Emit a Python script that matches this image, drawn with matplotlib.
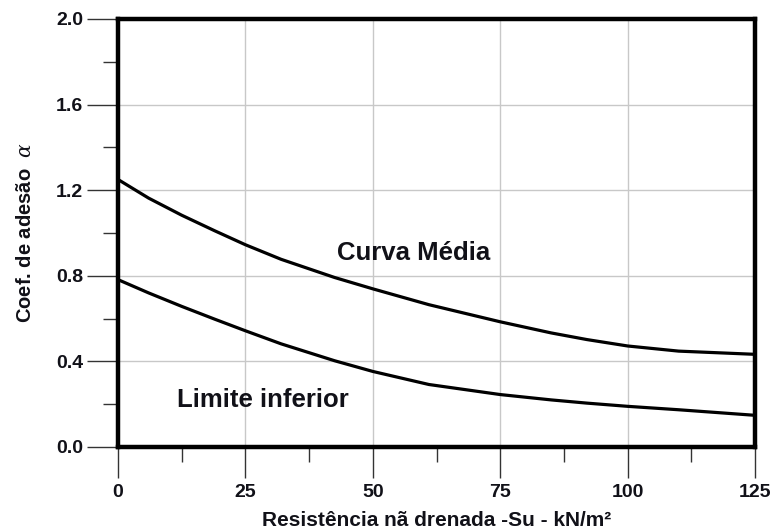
import matplotlib
matplotlib.use("Agg")
import matplotlib.pyplot as plt
from matplotlib.ticker import MultipleLocator

# Undrained shear strength Su (kN/m²)
su = [0, 6, 12.5, 19, 25, 32, 42.5, 50, 61, 75, 85, 92, 100, 110, 125]
# Adhesion coefficient alpha – mean curve
alpha_media = [1.25, 1.163, 1.083, 1.010, 0.945, 0.877, 0.792, 0.739, 0.665,
               0.585, 0.533, 0.502, 0.472, 0.448, 0.433]
# Adhesion coefficient alpha – lower bound
alpha_inferior = [0.782, 0.72, 0.657, 0.597, 0.543, 0.482, 0.403, 0.353, 0.292,
                  0.245, 0.220, 0.205, 0.19, 0.174, 0.148]

x_ticks = [0, 25, 50, 75, 100, 125]
y_ticks = [0.0, 0.4, 0.8, 1.2, 1.6, 2.0]
y_tick_labels = ["0.0", "0.4", "0.8", "1.2", "1.6", "2.0"]

plt.rcParams["font.family"] = ["Liberation Sans", "DejaVu Sans"]
plt.rcParams["mathtext.fontset"] = "dejavuserif"

txt = "#111118"

fig = plt.figure(figsize=(7.74, 5.32), dpi=100)
ax = fig.add_axes([0.1525, 0.1598, 0.823, 0.8045])

ax.plot(su, alpha_media, color="black", lw=2.3, solid_joinstyle="round", zorder=3)
ax.plot(su, alpha_inferior, color="black", lw=2.3, solid_joinstyle="round", zorder=3)

ax.set_xlim(0, 125)
ax.set_ylim(0, 2.0)

ax.set_xticks(x_ticks)
ax.set_xticklabels([str(v) for v in x_ticks], fontweight="bold", fontsize=14,
                   color=txt)
ax.xaxis.set_minor_locator(MultipleLocator(12.5))
ax.set_yticks(y_ticks)
ax.set_yticklabels(y_tick_labels, fontweight="bold", fontsize=14, color=txt)
ax.yaxis.set_minor_locator(MultipleLocator(0.2))

ax.tick_params(axis="both", which="major", direction="out", length=22,
               width=1.0, color="#333333")
ax.tick_params(axis="both", which="minor", direction="out", length=11,
               width=1.0, color="#333333")
ax.tick_params(axis="x", which="major", pad=4.5)
ax.tick_params(axis="y", which="major", pad=3)

ax.grid(True, which="major", color="#c8c8c8", lw=1.0, zorder=0)
ax.set_axisbelow(True)

for s in ax.spines.values():
    s.set_linewidth(3.2)
    s.set_color("black")
    s.set_zorder(4)

ax.set_xlabel("Resistência nã drenada -Su - kN/m²", fontweight="bold",
              fontsize=15, color=txt, labelpad=7)
ax.set_ylabel("Coef. de adesão  $\\alpha$", fontweight="bold", fontsize=14.5,
              color=txt, labelpad=15)

ax.text(42.9, 0.872, "Curva Média", ha="left", va="baseline",
        fontweight="bold", fontsize=18.5, color=txt, zorder=5)
ax.text(11.5, 0.187, "Limite inferior", ha="left", va="baseline",
        fontweight="bold", fontsize=18.5, color=txt, zorder=5)

fig.savefig("out.png", dpi=100)
